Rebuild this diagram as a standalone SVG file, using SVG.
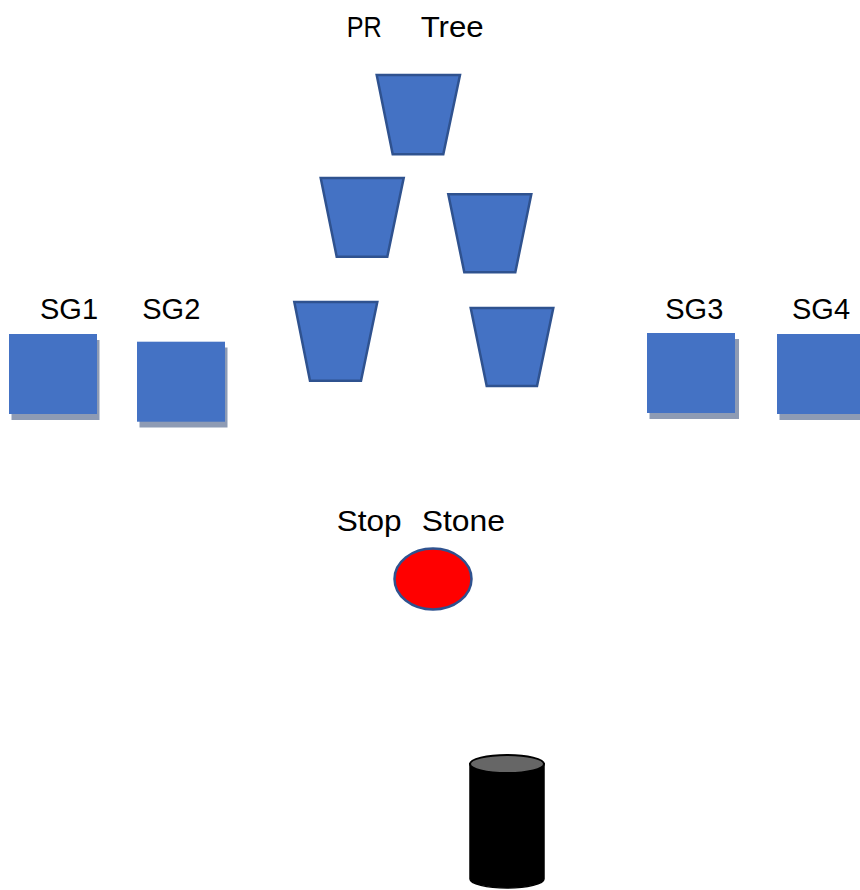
<svg xmlns="http://www.w3.org/2000/svg" width="860" height="890" viewBox="0 0 860 890">
<style>
.lbl{font-family:"Liberation Sans",Arial,sans-serif;font-size:29px;fill:#000}
.trap{fill:#4472c4;stroke:#2f528f;stroke-width:2.5}
.sq{fill:#4472c4}
.sh{fill:#8e9bb4}
</style>
<rect width="860" height="890" fill="#fff"/>
<text class="lbl" y="37"><tspan x="346.7" textLength="35" lengthAdjust="spacingAndGlyphs">PR</tspan><tspan x="420.7" textLength="63" lengthAdjust="spacingAndGlyphs">Tree</tspan></text>
<g id="tree1"><polygon class="trap" points="376.7,75 460,75 443.3,154.3 392.7,154.3"/></g>
<g id="tree2"><polygon class="trap" points="320.7,178 403.7,178 387.3,256.7 336.7,256.7"/></g>
<g id="tree3"><polygon class="trap" points="448.3,194.3 531.3,194.3 515.3,272.3 464.3,272.3"/></g>
<g id="tree4"><polygon class="trap" points="294.3,302 377.3,302 361,380.7 310,380.7"/></g>
<g id="tree5"><polygon class="trap" points="470.7,308 553.3,308 537,386 486.7,386"/></g>
<g id="sg1"><text class="lbl" x="69" y="319" text-anchor="middle">SG1</text><rect class="sh" x="11.5" y="340" width="88" height="80"/><rect class="sq" x="9" y="334" width="88" height="80"/></g>
<g id="sg2"><text class="lbl" x="171.3" y="319" text-anchor="middle">SG2</text><rect class="sh" x="139.5" y="347.5" width="88" height="80"/><rect class="sq" x="137" y="341.7" width="88" height="80"/></g>
<g id="sg3"><text class="lbl" x="694.3" y="319" text-anchor="middle">SG3</text><rect class="sh" x="649.5" y="339" width="89.5" height="80"/><rect class="sq" x="647" y="333" width="88" height="80"/></g>
<g id="sg4"><text class="lbl" x="821" y="319" text-anchor="middle">SG4</text><rect class="sh" x="779.5" y="340" width="90" height="80"/><rect class="sq" x="777" y="334" width="90" height="80"/></g>
<g id="stopstone"><text class="lbl" y="530.7"><tspan x="336.7" textLength="65" lengthAdjust="spacingAndGlyphs">Stop</tspan><tspan x="421.7" textLength="83.3" lengthAdjust="spacingAndGlyphs">Stone</tspan></text>
<ellipse cx="433" cy="579" rx="38.5" ry="30.5" fill="#ff0000" stroke="#2f528f" stroke-width="2.5"/></g>
<g id="cylinder">
<path d="M470,764 L470,879 A37,9 0 0 0 544,879 L544,764 Z" fill="#000" stroke="#000" stroke-width="1.5"/>
<ellipse cx="507" cy="764" rx="37" ry="9" fill="#666" stroke="#000" stroke-width="2"/>
</g>
<g id="connectors"/>
</svg>
